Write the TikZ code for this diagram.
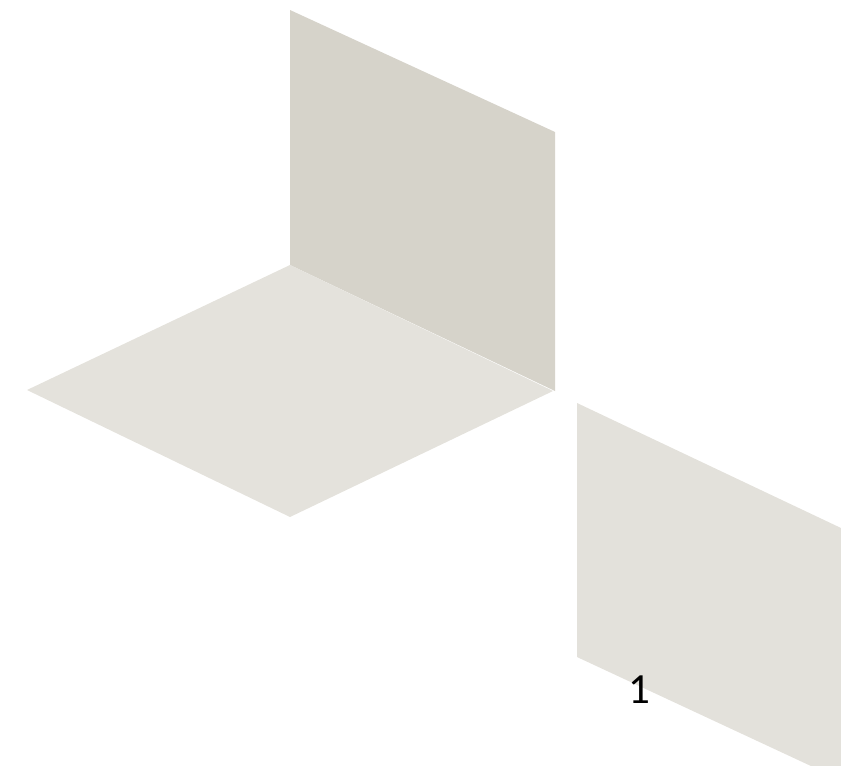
\documentclass[tikz,border=0pt]{standalone}
\usepackage{fontspec}
\setmainfont{Carlito}
\definecolor{wallc}{HTML}{D6D3CA}
\definecolor{floorc}{HTML}{E4E2DC}
\definecolor{panelc}{HTML}{E3E1DB}
\begin{document}
\begin{tikzpicture}[x=1pt,y=-1pt]
\useasboundingbox (0,0) rectangle (841,766);
\clip (0,0) rectangle (841,766);
\fill[wallc] (290,10) -- (555,132) -- (555,391) -- (290,265) -- cycle;
\fill[floorc] (290,265) -- (553,391) -- (290,517) -- (27,390) -- cycle;
\fill[panelc] (577,403) -- (841,528) -- (841,780) -- (577,657) -- cycle;
\node[font=\fontsize{43}{43}\selectfont, anchor=base, inner sep=0pt] (num) at (639,703) {1};
\end{tikzpicture}
\end{document}
